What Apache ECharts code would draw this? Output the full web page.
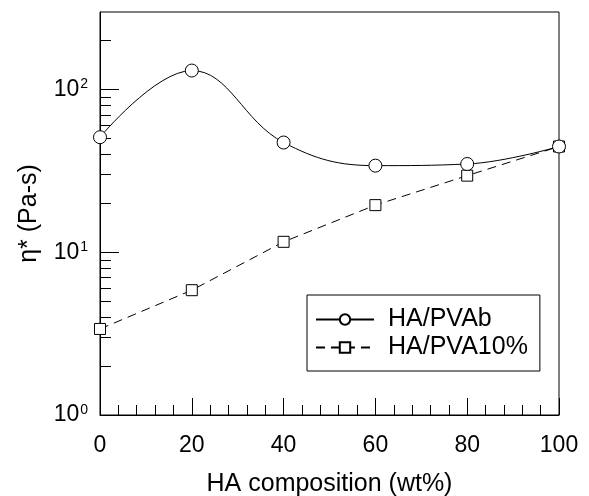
<!DOCTYPE html>
<html>
<head>
<meta charset="utf-8">
<script src="https://cdn.jsdelivr.net/npm/echarts@6/dist/echarts.min.js"></script>
<style>
  html, body { margin: 0; padding: 0; background: #fff; }
  #chart { width: 589px; height: 496px; }
</style>
</head>
<body>
<div id="chart"></div>
<script>
// data
const composition = [0, 20, 40, 60, 80, 100];
const pvab = [51, 131, 47.3, 34.1, 34.9, 44.7];
const pva10 = [3.38, 5.85, 11.6, 19.5, 29.6, 44.7];
const seriesNames = ['HA/PVAb', 'HA/PVA10%'];
const yMajor = [1, 10, 100];
const yMinor = [2, 3, 4, 5, 6, 7, 8, 9, 20, 30, 40, 50, 60, 70, 80, 90, 200];

const font = "'Liberation Sans', Arial, sans-serif";
const chart = echarts.init(document.getElementById('chart'));

const pairs = (ys) => composition.map((x, i) => [x, ys[i]]);

const option = {
  animation: false,
  textStyle: { fontFamily: font, color: '#000' },
  grid: {
    left: 100, right: 30, top: 12, bottom: 81,
    outerBoundsMode: 'none',
    show: true, borderColor: '#000', borderWidth: 1
  },
  legend: {
    orient: 'vertical',
    left: 307, top: 295,
    padding: [12, 12, 11, 8],
    itemGap: 3,
    itemWidth: 58,
    itemHeight: 13,
    borderColor: '#000',
    borderWidth: 1,
    backgroundColor: '#fff',
    textStyle: { fontFamily: font, fontSize: 25, lineHeight: 25, color: '#000', padding: [0, 0, 0, 9] },
    data: seriesNames
  },
  xAxis: {
    type: 'value',
    min: 0, max: 100, interval: 20,
    name: 'HA composition (wt%)',
    nameLocation: 'middle',
    nameGap: 57,
    nameTextStyle: { fontFamily: font, fontSize: 25, color: '#000' },
    axisLine: { lineStyle: { color: '#000', width: 1 } },
    axisTick: { inside: true, length: 17, lineStyle: { color: '#000' } },
    minorTick: { show: true, splitNumber: 5, length: 10, lineStyle: { color: '#000' } },
    splitLine: { show: false },
    axisLabel: { fontFamily: font, fontSize: 23, color: '#000', margin: 19 }
  },
  yAxis: [
    {
      type: 'log',
      logBase: 10,
      min: 1, max: 300,
      name: 'η* (Pa-s)',
      nameLocation: 'middle',
      nameGap: 58,
      nameTextStyle: { fontFamily: font, fontSize: 25, color: '#000' },
      axisLine: { show: true, lineStyle: { color: '#000', width: 1 } },
      axisTick: { inside: true, length: 19, customValues: yMajor, lineStyle: { color: '#000' } },
      splitLine: { show: false },
      axisLabel: {
        customValues: yMajor,
        margin: 12,
        formatter: (v) => '{b|10}{s|' + Math.round(Math.log10(v)) + '}',
        rich: {
          b: { fontFamily: font, fontSize: 23, color: '#000' },
          s: { fontFamily: font, fontSize: 14, color: '#000', verticalAlign: 'top', padding: [0, 0, 10, 1] }
        }
      }
    },
    {
      type: 'log',
      logBase: 10,
      min: 1, max: 300,
      position: 'left',
      axisLine: { show: false },
      axisTick: { inside: true, length: 11, customValues: yMinor, lineStyle: { color: '#000' } },
      axisLabel: { show: false },
      splitLine: { show: false }
    }
  ],
  series: [
    {
      name: seriesNames[0],
      type: 'line',
      data: pairs(pvab),
      smooth: 0.4,
      symbol: 'circle',
      symbolSize: 13,
      itemStyle: { color: '#fff', borderColor: '#000', borderWidth: 1 },
      lineStyle: { color: '#000', width: 1 },
      z: 3
    },
    {
      name: seriesNames[1],
      type: 'line',
      data: pairs(pva10),
      symbol: 'rect',
      symbolSize: 11,
      itemStyle: { color: '#fff', borderColor: '#000', borderWidth: 1 },
      lineStyle: { color: '#000', width: 1, type: [9, 6] },
      z: 2
    }
  ]
};

chart.setOption(option);
</script>
</body>
</html>
